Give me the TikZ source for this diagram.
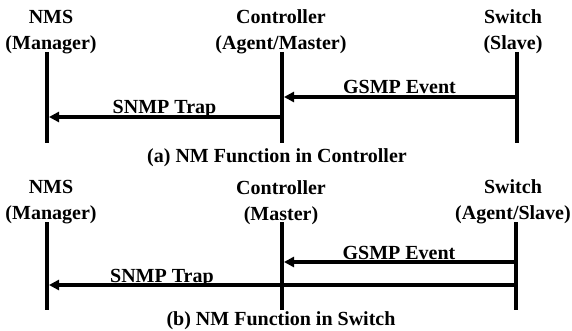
\documentclass[tikz,border=0pt]{standalone}
\usepackage{fontspec}
\setmainfont{Liberation Serif}
\usetikzlibrary{arrows.meta}
\tikzset{
  role/.style={align=center, inner sep=0pt, anchor=south, font=\fontsize{20}{26}\selectfont\bfseries},
  life/.style={line width=4pt},
  msg/.style={line width=4pt, -{Triangle[length=10pt,width=10pt]}, shorten >=2pt},
  lbl/.style={inner sep=0pt, anchor=base, yshift=3pt, font=\fontsize{20}{24}\selectfont\bfseries},
  capt/.style={inner sep=0pt, anchor=base, font=\fontsize{20}{24}\selectfont\bfseries}
}
\begin{document}
\begin{tikzpicture}[x=1pt,y=-1pt]
    \useasboundingbox (0,0) rectangle (572,331);
    %% (a) agent in the controller
    \node[role] (nmsA) at (51,54) {NMS\\(Manager)};
    \node[role] (ctrlA) at (281,54) {Controller\\(Agent/Master)};
    \node[role] (swA) at (513,54) {Switch\\(Slave)};

    \coordinate (nmsAt) at (47,52);  \coordinate (nmsAb) at (47,143);
    \coordinate (ctrlAt) at (282,52); \coordinate (ctrlAb) at (282,143);
    \coordinate (swAt) at (517,52);  \coordinate (swAb) at (517,143);
    \draw[life] (nmsAt) -- (nmsAb);
    \draw[life] (ctrlAt) -- (ctrlAb);
    \draw[life] (swAt) -- (swAb);

    \coordinate (gsmpA1) at (517,97);  \coordinate (gsmpA2) at (282,97);
    \coordinate (snmpA1) at (282,117); \coordinate (snmpA2) at (47,117);
    \draw[msg] (gsmpA1) -- node[lbl]{GSMP Event} (gsmpA2);
    \draw[msg] (snmpA1) -- node[lbl]{SNMP Trap} (snmpA2);

    \node[capt] (captA) at (277,162) {(a) NM Function in Controller};

    %% (b) agent in the switch
    \node[role] (nmsB) at (51,224.5) {NMS\\(Manager)};
    \node[role] (ctrlB) at (281,224.5) {Controller\\(Master)};
    \node[role] (swB) at (513,224.5) {Switch\\(Agent/Slave)};

    \coordinate (nmsBt) at (47,222);  \coordinate (nmsBb) at (47,310);
    \coordinate (ctrlBt) at (282,222); \coordinate (ctrlBb) at (282,310);
    \coordinate (swBt) at (516,222);  \coordinate (swBb) at (516,310);
    \draw[life] (nmsBt) -- (nmsBb);
    \draw[life] (ctrlBt) -- (ctrlBb);
    \draw[life] (swBt) -- (swBb);

    \coordinate (gsmpB1) at (516,262); \coordinate (gsmpB2) at (282,262);
    \coordinate (snmpB1) at (516,285); \coordinate (snmpB2) at (47,285);
    \draw[msg] (gsmpB1) -- node[lbl]{GSMP Event} (gsmpB2);
    \draw[msg] (snmpB1) -- node[lbl, pos=.755]{SNMP Trap} (snmpB2);

    \node[capt] (captB) at (281,325) {(b) NM Function in Switch};
\end{tikzpicture}
\end{document}
